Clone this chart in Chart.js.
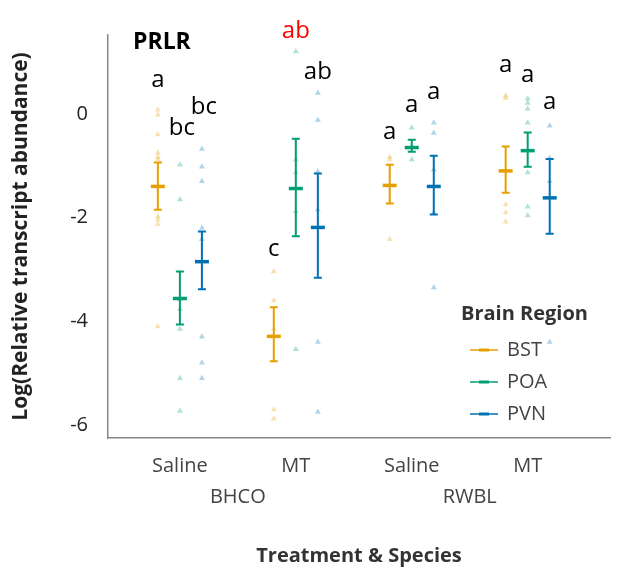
<!DOCTYPE html>
<html><head><meta charset="utf-8">
<script src="https://cdn.jsdelivr.net/npm/chart.js@4"></script>
<style>body{margin:0;background:#fff}#wrap{width:624px;height:572px}</style>
</head><body><div id="wrap"><canvas id="c"></canvas></div>
<script>
// 資料
const groups = ['Saline', 'MT', 'Saline', 'MT'];
const species = ['BHCO', 'RWBL'];
const regions = ['BST', 'POA', 'PVN'];
const colors = ['#E69F00', '#009E73', '#0072B2'];
const yTicks = [-6, -4, -2, 0];

// 個別點 [group][region]
const bstPoints = [
  [0.08, -0.02, -0.4, -0.75, -0.83, -0.88, -1.98, -2.04, -2.13, -4.1],
  [-3.04, -3.6, -4.15, -5.7, -5.88],
  [-0.83, -0.88, -2.42],
  [0.35, 0.3, -1.75, -1.9, -2.08]
];
const poaPoints = [
  [-0.98, -1.65, -3.58, -3.77, -4.15, -5.1, -5.73],
  [1.2, -0.88, -1.13, -1.88, -4.54],
  [-0.27, -0.63, -0.88],
  [0.29, 0.21, 0.1, -0.17, -1.13, -1.79, -1.96]
];
const pvnPoints = [
  [-0.68, -1.02, -1.3, -2.2, -2.42, -4.3, -4.8, -5.1],
  [0.4, -0.12, -1.11, -1.85, -4.4, -5.75],
  [-0.17, -0.37, -1.08, -1.9, -3.35],
  [-0.23, -0.85, -1.3, -4.4]
];
// 平均與誤差
const bstMean = [-1.4, -4.29, -1.38, -1.1];
const bstHi = [-0.94, -3.73, -0.98, -0.63];
const bstLo = [-1.85, -4.77, -1.73, -1.52];
const poaMean = [-3.56, -1.44, -0.65, -0.71];
const poaHi = [-3.04, -0.48, -0.5, -0.36];
const poaLo = [-4.06, -2.36, -0.73, -1.02];
const pvnMean = [-2.85, -2.19, -1.4, -1.62];
const pvnHi = [-2.27, -1.15, -0.81, -0.87];
const pvnLo = [-3.38, -3.16, -1.94, -2.31];
// 顯著性字母 [text, group, region, y]
const letters = [
  ['a', 0, 0, 0.65], ['bc', 0, 1, -0.27], ['bc', 0, 2, 0.12],
  ['c', 1, 0, -2.6], ['ab', 1, 1, 1.6], ['ab', 1, 2, 0.8],
  ['a', 2, 0, -0.35], ['a', 2, 1, 0.17], ['a', 2, 2, 0.42],
  ['a', 3, 0, 0.94], ['a', 3, 1, 0.75], ['a', 3, 2, 0.23]
];

const offsets = [-0.19, 0, 0.19];
const allPoints = [bstPoints, poaPoints, pvnPoints];
const means = [bstMean, poaMean, pvnMean];
const his = [bstHi, poaHi, pvnHi];
const los = [bstLo, poaLo, pvnLo];

const datasets = regions.map((r, ri) => ({
  label: r,
  data: allPoints[ri].flatMap((arr, gi) => arr.map(v => ({x: gi + 1 + offsets[ri], y: v}))),
  pointStyle: 'triangle',
  pointRadius: 3.5,
  backgroundColor: colors[ri] + '4D',
  borderColor: colors[ri] + '4D',
  borderWidth: 0
}));

const overlay = {
  id: 'overlay',
  afterDatasetsDraw(chart) {
    const {ctx, scales: {x, y}} = chart;
    ctx.save();
    regions.forEach((r, ri) => {
      ctx.strokeStyle = colors[ri];
      means[ri].forEach((m, gi) => {
        const px = x.getPixelForValue(gi + 1 + offsets[ri]);
        const hi = y.getPixelForValue(his[ri][gi]), lo = y.getPixelForValue(los[ri][gi]);
        ctx.lineWidth = 2;
        ctx.beginPath();
        ctx.moveTo(px, hi); ctx.lineTo(px, lo);
        ctx.moveTo(px - 4, hi); ctx.lineTo(px + 4, hi);
        ctx.moveTo(px - 4, lo); ctx.lineTo(px + 4, lo);
        ctx.stroke();
        ctx.lineWidth = 3.5;
        ctx.beginPath();
        const pm = y.getPixelForValue(m);
        ctx.moveTo(px - 7, pm); ctx.lineTo(px + 7, pm);
        ctx.stroke();
      });
    });
    // letters
    ctx.font = '24px "Open Sans"';
    ctx.textAlign = 'center';
    ctx.textBaseline = 'middle';
    letters.forEach(([t, gi, ri, v]) => {
      ctx.fillStyle = (gi === 1 && ri === 1) ? '#FF0000' : '#000';
      ctx.fillText(t, x.getPixelForValue(gi + 1 + offsets[ri]) + (t === 'bc' ? 2 : 0), y.getPixelForValue(v));
    });
    // title
    ctx.font = 'bold 23px "Open Sans"';
    ctx.textAlign = 'left';
    ctx.fillStyle = '#000';
    ctx.fillText('PRLR', 133, 42);
    // species
    ctx.font = '20px "Open Sans"';
    ctx.fillStyle = '#444';
    ctx.textAlign = 'center';
    species.forEach((s, i) => {
      const px = (x.getPixelForValue(i * 2 + 1) + x.getPixelForValue(i * 2 + 2)) / 2;
      ctx.fillText(s, px, 497);
    });
    // legend
    ctx.textAlign = 'left';
    ctx.font = 'bold 20px "Open Sans"';
    ctx.fillStyle = '#333';
    ctx.fillText('Brain Region', 461, 314);
    ctx.font = '20px "Open Sans"';
    regions.forEach((r, ri) => {
      const ly = 350 + ri * 32;
      ctx.strokeStyle = colors[ri];
      ctx.lineWidth = 1.5;
      ctx.beginPath(); ctx.moveTo(470, ly); ctx.lineTo(498, ly); ctx.stroke();
      ctx.lineWidth = 3;
      ctx.beginPath(); ctx.moveTo(479, ly); ctx.lineTo(489, ly); ctx.stroke();
      ctx.fillStyle = '#444';
      ctx.fillText(r, 507, ly);
    });
    ctx.restore();
  }
};

new Chart(document.getElementById('c'), {
  type: 'scatter',
  data: {datasets},
  options: {
    responsive: true,
    maintainAspectRatio: false,
    animation: false,
    layout: {padding: {left: 8, top: 35, right: 14, bottom: 0}},
    plugins: {legend: {display: false}, tooltip: {enabled: false}},
    scales: {
      x: {
        min: 0.38, max: 4.71,
        grid: {display: false, drawTicks: false},
        border: {color: '#888', width: 1.5},
        afterBuildTicks: s => { s.ticks = [1, 2, 3, 4].map(v => ({value: v})); },
        ticks: {
          callback: (v) => groups[Math.round(v) - 1],
          font: {size: 20, family: 'Open Sans'}, color: '#444', padding: 16, maxRotation: 0
        },
        title: {display: true, text: 'Treatment & Species', font: {size: 20, weight: 'bold', family: 'Open Sans'}, color: '#333', padding: {top: 54}},
        afterFit: s => { s.height = 134; }
      },
      y: {
        min: -6.25, max: 1.52,
        grid: {display: false, drawTicks: false},
        border: {color: '#888', width: 1.5},
        afterBuildTicks: s => { s.ticks = yTicks.map(v => ({value: v})); },
        ticks: {font: {size: 20, family: 'Open Sans'}, color: '#222', padding: 20},
        title: {display: true, text: 'Log(Relative transcript abundance)', font: {size: 21, weight: 'bold', family: 'Open Sans'}, color: '#222', padding: 0},
        afterFit: s => { s.width = 100; }
      }
    }
  },
  plugins: [overlay]
});
</script></body></html>
